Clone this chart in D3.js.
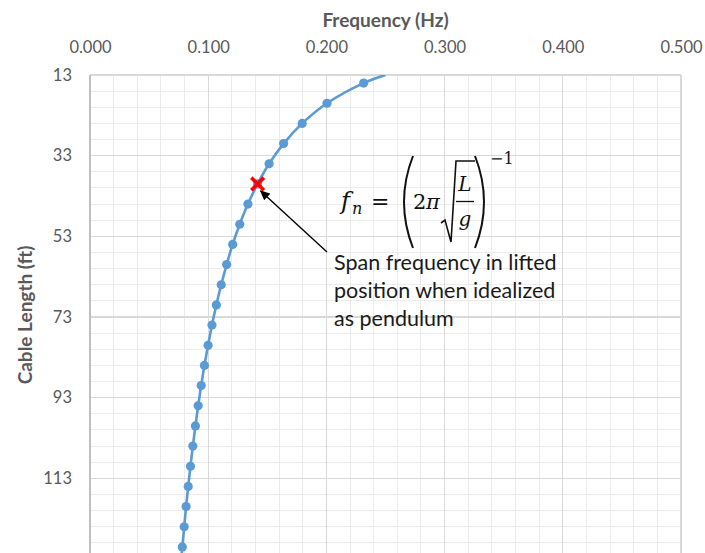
<!DOCTYPE html>
<html>
<head>
<meta charset="utf-8">
<script src="https://cdn.jsdelivr.net/npm/d3@7"></script>
<style>
  html, body { margin: 0; padding: 0; background: #ffffff; }
  svg { display: block; }
</style>
</head>
<body>
<svg id="chart" width="705" height="553"></svg>
<script>
// Cable length (ft) of each computed span and its pendulum frequency (Hz)
const cableLength = [15, 20, 25, 30, 35, 40, 45, 50, 55, 60, 65, 70, 75, 80,
                     85, 90, 95, 100, 105, 110, 115, 120, 125, 130];
const frequency   = [0.2315, 0.2005, 0.1795, 0.1638, 0.1515, 0.1418, 0.1336, 0.1267,
                     0.1207, 0.1156, 0.1110, 0.1069, 0.1032, 0.0999, 0.0968, 0.0941,
                     0.0915, 0.0892, 0.0870, 0.0850, 0.0831, 0.0813, 0.0797, 0.0781];

// Trend curve runs slightly past the first and last computed spans
const curveLength = [13, ...cableLength, 133];
const curveFreq   = [0.250, ...frequency, 0.0772];

// Lifted-position span highlighted with a cross
const liftedLength = [40];
const liftedFreq   = [0.1418];

// Axis ticks (the 133 ft gridline sits below the visible area, so it carries no label)
const freqTicks     = [0, 0.1, 0.2, 0.3, 0.4, 0.5];
const lengthTicks   = [13, 33, 53, 73, 93, 113];
const lengthMajorGrid = [13, 33, 53, 73, 93, 113, 133];

const annotationLines = ["Span frequency in lifted", "position when idealized", "as pendulum"];

const svg = d3.select("#chart");
const plotLeft = 90, plotRight = 681, plotTop = 75, plotBottom = 559;

const x = d3.scaleLinear().domain([0, 0.5]).range([plotLeft, plotRight]);
const y = d3.scaleLinear().domain([13, 133]).range([plotTop, plotBottom]);

const labelFont = "Lato, 'Open Sans', sans-serif";
const grey = "#595959";

// Grid: minor lines every 0.02 Hz / 4 ft, major at the labelled ticks
const grid = svg.append("g");
grid.selectAll("line.vminor").data(d3.range(0, 0.5001, 0.02)).join("line")
  .attr("x1", d => x(d)).attr("x2", d => x(d)).attr("y1", plotTop).attr("y2", plotBottom)
  .attr("stroke", "#ececec").attr("stroke-width", 1).attr("shape-rendering", "crispEdges");
grid.selectAll("line.hminor").data(d3.range(13, 133.01, 4)).join("line")
  .attr("x1", plotLeft).attr("x2", plotRight).attr("y1", d => y(d)).attr("y2", d => y(d))
  .attr("stroke", "#ececec").attr("stroke-width", 1).attr("shape-rendering", "crispEdges");
grid.selectAll("line.vmajor").data(freqTicks).join("line")
  .attr("x1", d => x(d)).attr("x2", d => x(d)).attr("y1", plotTop).attr("y2", plotBottom)
  .attr("stroke", "#d9d9d9").attr("stroke-width", 1.3).attr("shape-rendering", "crispEdges");
grid.selectAll("line.hmajor").data(lengthMajorGrid).join("line")
  .attr("x1", plotLeft).attr("x2", plotRight).attr("y1", d => y(d)).attr("y2", d => y(d))
  .attr("stroke", "#d9d9d9").attr("stroke-width", 1.3).attr("shape-rendering", "crispEdges");
// Vertical axis line
svg.append("line").attr("x1", plotLeft).attr("x2", plotLeft).attr("y1", plotTop).attr("y2", plotBottom)
  .attr("stroke", "#bfbfbf").attr("stroke-width", 1.5).attr("shape-rendering", "crispEdges");

// Top frequency axis
const xAxis = svg.append("g").attr("transform", `translate(0,${plotTop})`)
  .call(d3.axisTop(x).tickValues(freqTicks).tickFormat(d3.format(".3f")).tickSize(0).tickPadding(22));
xAxis.select(".domain").remove();
xAxis.selectAll("text").attr("font-family", labelFont).attr("font-size", 16.5).attr("fill", grey);

// Left length axis
const yAxis = svg.append("g").attr("transform", `translate(${plotLeft},0)`)
  .call(d3.axisLeft(y).tickValues(lengthTicks).tickFormat(d3.format("d")).tickSize(0).tickPadding(18));
yAxis.select(".domain").remove();
yAxis.selectAll("text").attr("font-family", labelFont).attr("font-size", 16.5).attr("fill", grey);

// Axis titles
svg.append("text").attr("x", (plotLeft + plotRight) / 2).attr("y", 27).attr("text-anchor", "middle")
  .attr("font-family", labelFont).attr("font-weight", "bold").attr("font-size", 19)
  .attr("fill", grey).text("Frequency (Hz)");
svg.append("text").attr("transform", `translate(32,${(plotTop + plotBottom) / 2 - 2}) rotate(-90)`)
  .attr("text-anchor", "middle")
  .attr("font-family", labelFont).attr("font-weight", "bold").attr("font-size", 19)
  .attr("fill", grey).text("Cable Length (ft)");

// Series
svg.append("clipPath").attr("id", "plotClip").append("rect")
  .attr("x", plotLeft).attr("y", plotTop).attr("width", plotRight - plotLeft).attr("height", plotBottom - plotTop);

const line = d3.line().x(d => x(d[1])).y(d => y(d[0])).curve(d3.curveCatmullRom.alpha(0.5));
svg.append("path").datum(d3.zip(curveLength, curveFreq))
  .attr("clip-path", "url(#plotClip)")
  .attr("d", line).attr("fill", "none").attr("stroke", "#5b9bd5").attr("stroke-width", 2.6);

svg.append("g").selectAll("circle").data(d3.zip(cableLength, frequency)).join("circle")
  .attr("cx", d => x(d[1])).attr("cy", d => y(d[0])).attr("r", 4.6).attr("fill", "#5b9bd5");

// Red cross at the lifted-position span
const cross = svg.append("g").selectAll("g").data(d3.zip(liftedLength, liftedFreq)).join("g")
  .attr("transform", d => `translate(${x(d[1])},${y(d[0])})`);
cross.append("path").attr("d", "M-5,-5L5,5M5,-5L-5,5")
  .attr("stroke", "#ff0000").attr("stroke-width", 3.6).attr("stroke-linecap", "square");

// Annotation arrow
const defs = svg.append("defs");
defs.append("marker").attr("id", "arrowHead").attr("viewBox", "0 0 10 10")
  .attr("refX", 9).attr("refY", 5).attr("markerWidth", 10).attr("markerHeight", 10)
  .attr("markerUnits", "userSpaceOnUse").attr("orient", "auto")
  .append("path").attr("d", "M0,0.5L10,5L0,9.5Z").attr("fill", "#000");
const tip = [x(liftedFreq[0]) + 3, y(liftedLength[0]) + 7];
svg.append("line").attr("x1", 327).attr("y1", 252).attr("x2", tip[0]).attr("y2", tip[1])
  .attr("stroke", "#000").attr("stroke-width", 1.4).attr("marker-end", "url(#arrowHead)");

// Annotation text
svg.append("g").selectAll("text").data(annotationLines).join("text")
  .attr("x", 334).attr("y", (d, i) => 270 + i * 27.8)
  .attr("font-family", labelFont).attr("font-size", 21.5).attr("fill", "#1a1a1a")
  .text(d => d);

// Pendulum frequency formula
const eq = svg.append("g").attr("font-family", "'DejaVu Serif', 'Liberation Serif', serif").attr("fill", "#111");
eq.append("text").attr("x", 341).attr("y", 209).attr("font-style", "italic").attr("font-size", 24).text("f");
eq.append("text").attr("x", 352).attr("y", 214).attr("font-style", "italic").attr("font-size", 16).text("n");
eq.append("text").attr("x", 371).attr("y", 209).attr("font-size", 22).text("=");
eq.append("text").attr("x", 413).attr("y", 209).attr("font-size", 21).text("2");
eq.append("text").attr("x", 426).attr("y", 209).attr("font-style", "italic").attr("font-size", 21).text("π");
eq.append("text").attr("x", 465).attr("y", 191).attr("text-anchor", "middle").attr("font-style", "italic").attr("font-size", 20).text("L");
eq.append("text").attr("x", 465).attr("y", 226).attr("text-anchor", "middle").attr("font-style", "italic").attr("font-size", 20).text("g");
eq.append("text").attr("x", 490).attr("y", 164).attr("font-size", 16).text("−1");
const strokeEq = p => eq.append("path").attr("d", p).attr("fill", "none").attr("stroke", "#111");
strokeEq("M456,201.5H474").attr("stroke-width", 1.3);
strokeEq("M441,223L445,220L451,242L456,161H475").attr("stroke-width", 1.6);
strokeEq("M413,156Q395,202 413,248").attr("stroke-width", 2);
strokeEq("M475,156Q493,202 475,248").attr("stroke-width", 2);
</script>
</body>
</html>
